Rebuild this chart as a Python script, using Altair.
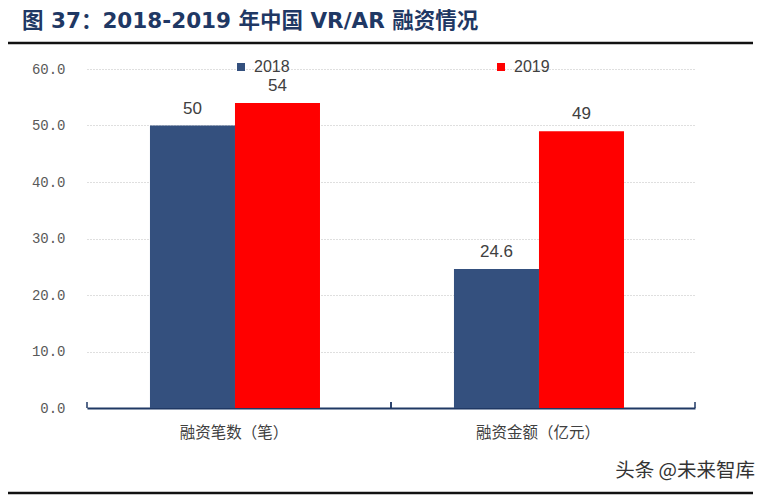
import altair as alt
import pandas as pd

categories = ["融资笔数（笔）", "融资金额（亿元）"]
years = ["2018", "2019"]
values_2018 = [50, 24.6]
values_2019 = [54, 49]
colors = ["#34507e", "#ff0000"]
y_ticks = [0, 10, 20, 30, 40, 50, 60]
title_text = "图 37：2018-2019 年中国 VR/AR 融资情况"
source_text = "头条 @未来智库"

rows = []
for c, a, b in zip(categories, values_2018, values_2019):
    rows.append({"category": c, "year": years[0], "value": a})
    rows.append({"category": c, "year": years[1], "value": b})
df = pd.DataFrame(rows)
cat_df = pd.DataFrame({"category": categories})
one = pd.DataFrame({"t": [title_text]})
src = pd.DataFrame({"t": [source_text]})

W, H = 608, 339

x_enc = alt.X(
    "category:N",
    sort=categories,
    scale=alt.Scale(paddingInner=0, paddingOuter=0),
    axis=alt.Axis(
        title=None,
        labelAngle=0,
        ticks=False,
        domainColor="#1f3864",
        domainWidth=2,
        labelFont="Noto Sans CJK SC",
        labelFontSize=15.5,
        labelColor="#404040",
        labelPadding=17,
        labelOffset=-5,
    ),
)
xo_enc = alt.XOffset(
    "year:N", sort=years, scale=alt.Scale(paddingOuter=0.788, paddingInner=0, align=0.47)
)
y_enc = alt.Y(
    "value:Q",
    scale=alt.Scale(domain=[0, 60], nice=False),
    axis=alt.Axis(
        title=None,
        values=y_ticks,
        format=".1f",
        domain=False,
        ticks=False,
        labelFont="Liberation Mono",
        labelFontSize=14,
        labelColor="#595959",
        labelPadding=22,
        gridColor="#bfbfbf",
        gridDash=[1, 2],
        gridWidth=1,
    ),
)
color_enc = alt.Color(
    "year:N",
    sort=years,
    scale=alt.Scale(domain=years, range=colors),
    legend=alt.Legend(
        title=None,
        orient="none",
        legendX=146,
        legendY=-10,
        direction="horizontal",
        symbolType="square",
        symbolSize=64,
        symbolStrokeWidth=0,
        labelFont="Liberation Sans",
        labelFontSize=16,
        labelColor="#404040",
        labelOffset=5,
        columnPadding=203,
        padding=0,
    ),
)

bars = alt.Chart(df).mark_bar().encode(x=x_enc, xOffset=xo_enc, y=y_enc, color=color_enc)

labels = alt.Chart(df).mark_text(
    baseline="bottom", dy=-8, font="Liberation Sans", fontSize=17, color="#404040"
).encode(
    x=alt.X("category:N", sort=categories),
    xOffset=alt.XOffset("year:N", sort=years),
    y="value:Q",
    text=alt.Text("value:Q", format="~g"),
)

tick_l = alt.Chart(cat_df).mark_rule(color="#1f3864", strokeWidth=1.5).encode(
    x=alt.X("category:N", sort=categories, bandPosition=0),
    y=alt.value(H),
    y2=alt.value(H - 6),
)
tick_r = alt.Chart(cat_df).mark_rule(color="#1f3864", strokeWidth=1.5).encode(
    x=alt.X("category:N", sort=categories, bandPosition=1),
    y=alt.value(H),
    y2=alt.value(H - 6),
)

title = alt.Chart(one).mark_text(
    align="left",
    baseline="middle",
    font="DejaVu Sans, Noto Sans CJK SC",
    fontSize=21.5,
    fontWeight="bold",
    color="#1f3864",
).encode(text="t:N", x=alt.value(-65), y=alt.value(-47))

top_line = alt.Chart(one).mark_rule(color="#111111", strokeWidth=2.5).encode(
    x=alt.value(-79), x2=alt.value(666), y=alt.value(-26)
)
bottom_line = alt.Chart(one).mark_rule(color="#111111", strokeWidth=2.5).encode(
    x=alt.value(-79), x2=alt.value(666), y=alt.value(424)
)
source = alt.Chart(src).mark_text(
    align="right",
    baseline="middle",
    font="Noto Sans CJK SC",
    fontSize=19.5,
    color="#333333",
).encode(text="t:N", x=alt.value(668), y=alt.value(402))

chart = (
    alt.layer(bars, labels, tick_l, tick_r, title, top_line, bottom_line, source)
    .properties(
        width=W,
        height=H,
        autosize=alt.AutoSizeParams(type="none"),
        padding={"left": 79, "top": 61, "right": 65, "bottom": 88},
    )
    .configure_view(stroke=None)
)

chart.save("out.html", embed_options={"renderer": "svg", "actions": False})
